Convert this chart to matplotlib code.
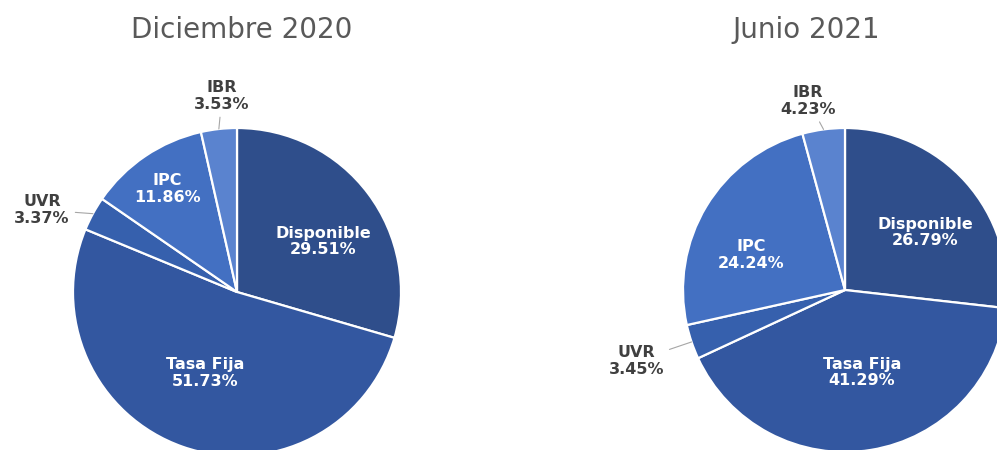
import matplotlib.pyplot as plt
import numpy as np

cats=['Disponible','Tasa Fija','UVR','IPC','IBR']
dic2020=[29.51,51.73,3.37,11.86,3.53]
jun2021=[26.79,41.29,3.45,24.24,4.23]
titles=['Diciembre 2020','Junio 2021']
colors=['#2F4E8B','#3357A0','#3660AD','#4370C2','#5A83CF']

fig=plt.figure(figsize=(9.97,4.5),dpi=100)
ax=fig.add_axes([0,0,1,1])

def draw_pie(vals, center, r, title, title_x, lab_d, lab_dt):
    wedges,_=ax.pie(vals, colors=colors, startangle=90, counterclock=False,
                    center=center, radius=r,
                    wedgeprops=dict(edgecolor='white', linewidth=1.6))
    for i,w in enumerate(wedges):
        mid=(w.theta1+w.theta2)/2.0
        ang=np.deg2rad(mid+lab_dt[i])
        tx=center[0]+r*lab_d[i]*np.cos(ang)
        ty=center[1]+r*lab_d[i]*np.sin(ang)
        txt="%s\n%.2f%%" % (cats[i], vals[i])
        if lab_d[i]<1:
            ax.text(tx, ty, txt, ha='center', va='center', color='white',
                    fontsize=11.5, fontweight='bold', linespacing=1.15)
        else:
            ex=center[0]+r*np.cos(np.deg2rad(mid))
            ey=center[1]+r*np.sin(np.deg2rad(mid))
            ax.annotate(txt, xy=(ex,ey), xytext=(tx,ty), ha='center', va='center',
                        color='#404040', fontsize=11.5, fontweight='bold', linespacing=1.15,
                        arrowprops=dict(arrowstyle='-', color='#A6A6A6', lw=0.8,
                                        shrinkA=2, shrinkB=0))
    ax.text(title_x, 420, title, ha='center', va='center', fontsize=20, color='#595959')

# radial distance / angle shift of each label (layout only)
d_left=[0.61,0.53,1.29,0.76,1.20]
dt_left=[-6.5,-2.3,5.7,0,-2]
d_right=[0.61,0.52,1.36,0.62,1.19]
dt_right=[-6.2,2.4,0,10.9,3.4]

draw_pie(dic2020, (237,158), 164, titles[0], 242, d_left, dt_left)
draw_pie(jun2021, (845,160), 162, titles[1], 806, d_right, dt_right)

ax.set_xlim(0,997)
ax.set_ylim(0,450)
ax.set_aspect('equal')
ax.axis('off')

fig.savefig('out.png', dpi=100)
